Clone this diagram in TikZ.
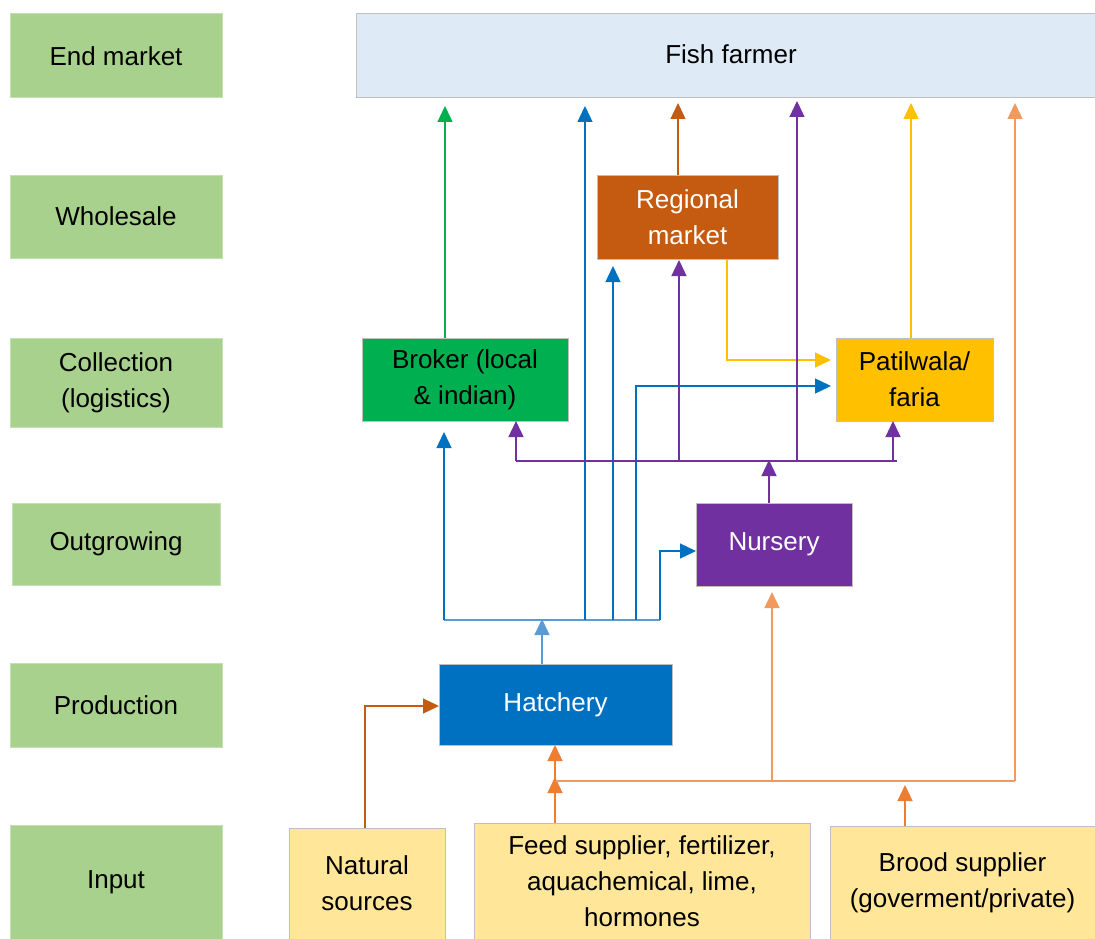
\documentclass[tikz,border=0pt]{standalone}
\usepackage{fontspec}
\setmainfont{Liberation Sans}
\usetikzlibrary{arrows.meta}
\definecolor{lgreen}{HTML}{A9D18E}
\definecolor{lgreenb}{HTML}{C5DFB4}
\definecolor{farmerc}{HTML}{DEEBF7}
\definecolor{boxb}{HTML}{BFBFBF}
\definecolor{brownc}{HTML}{C55A11}
\definecolor{greenc}{HTML}{00B050}
\definecolor{goldc}{HTML}{FFC000}
\definecolor{purplec}{HTML}{7030A0}
\definecolor{bluec}{HTML}{0070C0}
\definecolor{lbluec}{HTML}{5B9BD5}
\definecolor{inputc}{HTML}{FFE699}
\definecolor{orangec}{HTML}{ED7D31}
\definecolor{lorangec}{HTML}{F19A5F}
\begin{document}
\begin{tikzpicture}[x=1pt,y=-1pt,
  every node/.style={inner sep=0pt,outer sep=0pt,align=center,font=\fontsize{26}{36}\selectfont},
  lvl/.style={draw=lgreenb,line width=1pt,fill=lgreen},
  bx/.style={draw=boxb,line width=1pt},
  conn/.style={line width=1.3pt},
  tip/.style={-{Triangle[width=15pt,length=16pt]}},
]
\useasboundingbox (0,0) rectangle (1095,939);
% level boxes
\node[lvl,minimum width=212pt,minimum height=84pt] (l1) at (116,56) {End market};
\node[lvl,minimum width=212pt,minimum height=83pt] (l2) at (116,216.5) {Wholesale};
\node[lvl,minimum width=212pt,minimum height=89pt] (l3) at (116,382.5) {Collection\\(logistics)};
\node[lvl,minimum width=208pt,minimum height=82pt] (l4) at (116,544) {Outgrowing};
\node[lvl,minimum width=212pt,minimum height=84pt] (l5) at (116,705) {Production};
\node[lvl,minimum width=212pt,minimum height=114pt] (l6) at (116,882) {Input};
% actors
\node[bx,fill=farmerc,minimum width=739pt,minimum height=84pt] (farmer) at (725.5,56) {};
\node at (731,54) {Fish farmer};
\node[bx,fill=brownc,text=white,minimum width=181pt,minimum height=84pt] (regional) at (687.5,217) {Regional\\market};
\node[bx,fill=greenc,minimum width=206pt,minimum height=83pt] (broker) at (465,379.5) {Broker (local\\\& indian)};
\node[bx,fill=goldc,minimum width=157pt,minimum height=83pt] (patil) at (914.5,379.5) {Patilwala/\\faria};
\node[bx,fill=purplec,text=white,minimum width=156pt,minimum height=83pt] (nursery) at (774,544.5) {Nursery};
\node[bx,fill=bluec,text=white,minimum width=233pt,minimum height=81pt] (hatchery) at (555.5,704.5) {Hatchery};
\node[bx,fill=inputc,minimum width=156pt,minimum height=111pt] (natural) at (367,883.5) {Natural\\sources};
\node[bx,fill=inputc,minimum width=336pt,minimum height=116pt] (feed) at (642,881) {Feed supplier, fertilizer,\\aquachemical, lime,\\hormones};
\node[bx,fill=inputc,minimum width=265pt,minimum height=113pt] (brood) at (962.5,882.5) {Brood supplier\\(goverment/private)};
% bus coordinates
\coordinate (hbus) at (542,620);
\coordinate (pbus) at (769,461);
\coordinate (obus) at (555,781);
% green
\draw[conn,greenc,tip] (broker.north -| 445,0) -- (445,106);
% brown
\draw[conn,brownc,tip] (regional.north -| 678,0) -- (678,103);
\draw[conn,brownc,tip] (natural.north -| 365,0) -- (365,706) -- (hatchery.west |- 0,706);
% gold
\draw[conn,goldc,tip] (regional.south -| 727,0) -- (727,360) -- ([xshift=-5pt]patil.west |- 0,360);
\draw[conn,goldc,tip] (patil.north -| 911,0) -- (911,103);
% blue
\draw[conn,lbluec,tip] (hatchery.north -| hbus) -- ([yshift=1pt]hbus);
\draw[conn,lbluec] (hbus -| 444,0) -- (hbus -| 660,0);
\draw[conn,bluec,tip] (hbus -| 444,0) -- (444,432);
\draw[conn,bluec,tip] (hbus -| 585,0) -- (585,106);
\draw[conn,bluec,tip] (hbus -| 613,0) -- (613,266);
\draw[conn,bluec,tip] (hbus -| 636,0) -- (636,386) -- ([xshift=-5pt]patil.west |- 0,386);
\draw[conn,bluec,tip] (hbus -| 660,0) -- (660,551) -- (nursery.west |- 0,551);
% purple
\draw[conn,purplec,tip] (nursery.north -| pbus) -- ([yshift=1pt]pbus);
\draw[conn,purplec] (pbus -| 516,0) -- (pbus -| 897,0);
\draw[conn,purplec,tip] (pbus -| 516,0) -- (broker.south -| 516,0);
\draw[conn,purplec,tip] (pbus -| 893,0) -- (patil.south -| 893,0);
\draw[conn,purplec,tip] (pbus -| 679,0) -- (679,260);
\draw[conn,purplec,tip] (pbus -| 797,0) -- (797,101);
% orange
\draw[conn,orangec,tip] (feed.north -| obus) -- ([yshift=4pt]obus);
\draw[conn,orangec,tip] (brood.north -| 905,0) -- (905,785);
\draw[conn,lorangec] (obus) -- (obus -| 1015,0);
\draw[conn,orangec,tip] (obus) -- (hatchery.south -| obus);
\draw[conn,lorangec,tip] (obus -| 772,0) -- (772,592);
\draw[conn,lorangec,tip] (obus -| 1015,0) -- (1015,103);
\end{tikzpicture}
\end{document}
